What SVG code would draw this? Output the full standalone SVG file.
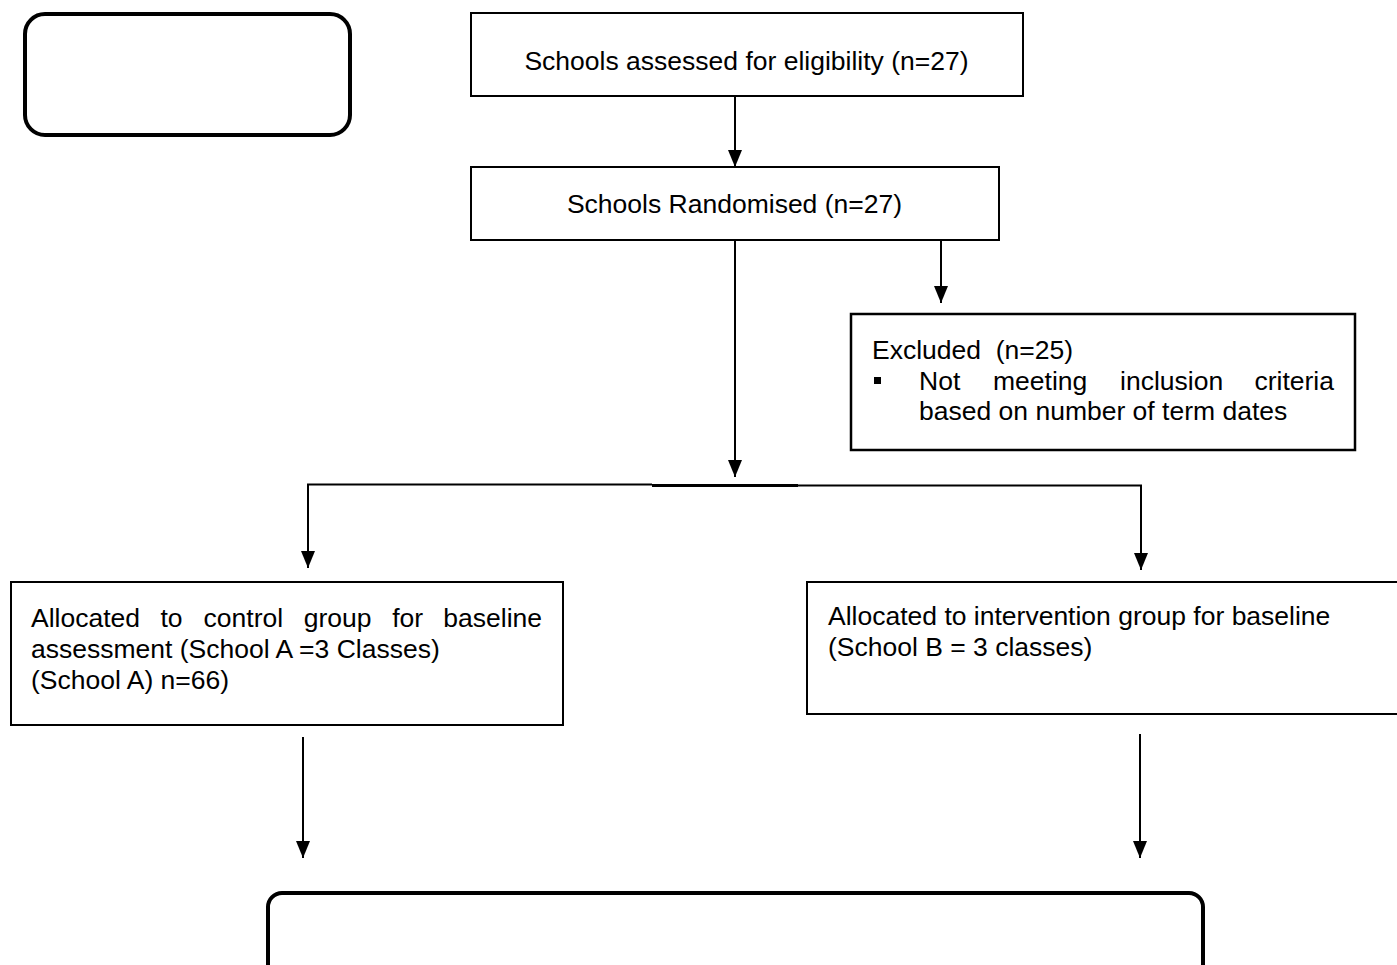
<svg xmlns="http://www.w3.org/2000/svg" width="1397" height="965" viewBox="0 0 1397 965">
  <style>
    .box { fill: #ffffff; stroke: #000000; stroke-width: 2; }
    .round { fill: #ffffff; stroke: #000000; stroke-width: 4; }
    .label { font-family: "Liberation Sans", Arial, sans-serif; font-size: 26.5px; fill: #000000; }
    .mid { text-anchor: middle; }
    .end { text-anchor: end; }
    .wire { fill: none; stroke: #000000; stroke-width: 2; }
  </style>
  <defs>
    <!-- filled arrowhead, tip on the end of the line -->
    <marker id="arrow" viewBox="0 0 17 14" refX="17" refY="7" markerWidth="17" markerHeight="14" markerUnits="userSpaceOnUse" orient="auto">
      <path d="M0,0 L17,7 L0,14 Z" fill="#000000"/>
    </marker>
  </defs>
  <rect width="1397" height="965" fill="#ffffff"/>

  <!-- empty rounded header box -->
  <g id="node-header">
    <rect class="round" x="25" y="14" width="325" height="121" rx="20" ry="20"/>
  </g>

  <g id="node-assessed">
    <rect class="box" x="471" y="13" width="552" height="83"/>
    <text class="label mid" x="746.5" y="70">Schools assessed for eligibility (n=27)</text>
  </g>

  <g id="node-randomised">
    <rect class="box" x="471" y="167" width="528" height="73"/>
    <text class="label mid" x="734.5" y="213">Schools Randomised (n=27)</text>
  </g>

  <g id="node-excluded">
    <rect class="box" x="851" y="314" width="504" height="136" style="stroke-width:2.5"/>
    <text class="label" x="872" y="359" xml:space="preserve">Excluded  (n=25)</text>
    <rect x="874" y="377" width="7" height="7" fill="#000000"/>
    <text class="label" x="919" y="390">Not</text>
    <text class="label" x="993" y="390">meeting</text>
    <text class="label" x="1120" y="390">inclusion</text>
    <text class="label end" x="1334" y="390">criteria</text>
    <text class="label" x="919" y="420">based on number of term dates</text>
  </g>

  <g id="node-control">
    <rect class="box" x="11" y="582" width="552" height="143"/>
    <text class="label" x="31" y="627">Allocated</text>
    <text class="label" x="160.4" y="627">to</text>
    <text class="label" x="203.6" y="627">control</text>
    <text class="label" x="303.7" y="627">group</text>
    <text class="label" x="392.2" y="627">for</text>
    <text class="label end" x="542" y="627">baseline</text>
    <text class="label" x="31" y="658">assessment (School A =3 Classes)</text>
    <text class="label" x="31" y="689">(School A) n=66)</text>
  </g>

  <g id="node-intervention">
    <rect class="box" x="807" y="582" width="600" height="132"/>
    <text class="label" x="828" y="625">Allocated to intervention group for baseline</text>
    <text class="label" x="828" y="656">(School B = 3 classes)</text>
  </g>

  <!-- empty rounded footer box, running past the lower edge -->
  <g id="node-footer">
    <rect class="round" x="268" y="893" width="935" height="100" rx="14" ry="14"/>
  </g>

  <g id="connectors">
    <line class="wire" x1="735" y1="96" x2="735" y2="167" marker-end="url(#arrow)"/>
    <line class="wire" x1="941" y1="240" x2="941" y2="303" marker-end="url(#arrow)"/>
    <line class="wire" x1="735" y1="240" x2="735" y2="477" marker-end="url(#arrow)"/>
    <!-- split bar -->
    <line class="wire" x1="307" y1="484.5" x2="652" y2="484.5"/>
    <line class="wire" x1="652" y1="485.5" x2="798" y2="485.5" style="stroke-width:3"/>
    <line class="wire" x1="798" y1="485.5" x2="1142" y2="485.5"/>
    <line class="wire" x1="308" y1="484" x2="308" y2="568" marker-end="url(#arrow)"/>
    <line class="wire" x1="1141" y1="485" x2="1141" y2="570" marker-end="url(#arrow)"/>
    <line class="wire" x1="303" y1="737" x2="303" y2="858" marker-end="url(#arrow)"/>
    <line class="wire" x1="1140" y1="734" x2="1140" y2="858" marker-end="url(#arrow)"/>
  </g>
</svg>
